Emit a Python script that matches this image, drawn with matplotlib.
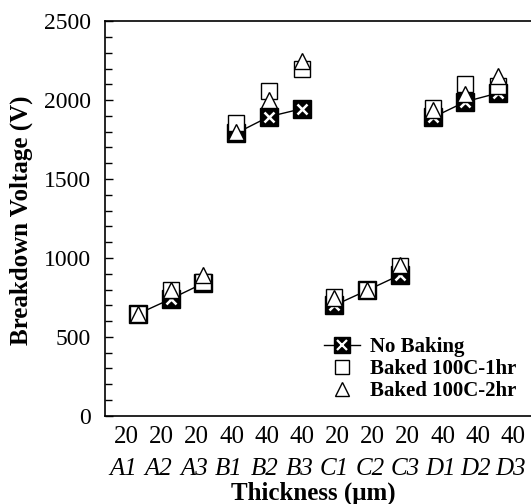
import matplotlib
matplotlib.use("Agg")
import matplotlib.pyplot as plt
import numpy as np
from matplotlib.ticker import MultipleLocator

plt.rcParams['font.family'] = ['Liberation Serif', 'DejaVu Serif']

samples = ['A1', 'A2', 'A3', 'B1', 'B2', 'B3', 'C1', 'C2', 'C3', 'D1', 'D2', 'D3']
thickness = ['20', '20', '20', '40', '40', '40', '20', '20', '20', '40', '40', '40']

no_baking = [645, 740, 840, 1790, 1895, 1945, 700, 795, 892, 1890, 1990, 2045]
baked_1hr = [645, 800, 848, 1855, 2055, 2200, 750, 800, 948, 1950, 2100, 2090]
baked_2hr = [645, 798, 895, 1798, 2000, 2245, 745, 800, 955, 1940, 2040, 2150]

x = np.arange(1, len(samples) + 1)

fig = plt.figure(figsize=(5.31, 5.04), dpi=100)
ax = fig.add_axes([0.198, 0.175, 0.802, 0.783])

# no-baking series: lines within each group of three, black square with white cross
for g in range(4):
    sl = slice(3 * g, 3 * g + 3)
    ax.plot(x[sl], no_baking[sl], '-', color='black', lw=1.0, zorder=2)
ax.plot(x, no_baking, 's', ms=12.5, mfc='black', mec='black', zorder=3)
ax.plot(x, no_baking, 'x', ms=7.5, mew=1.8, color='white', zorder=4)

ax.plot(x, baked_1hr, 's', ms=11, mfc='white', mec='black', mew=1.0, zorder=5)
ax.plot(x, baked_2hr, '^', ms=12, mfc='white', mec='black', mew=1.0, zorder=6)

ax.set_xlim(0, 13.0)
ax.set_ylim(0, 2500)
ax.yaxis.set_major_locator(MultipleLocator(500))
ax.yaxis.set_minor_locator(MultipleLocator(100))
ax.tick_params(axis='y', which='major', direction='in', length=6, width=1.0,
               labelsize=17, pad=10)
ax.tick_params(axis='y', which='minor', direction='in', length=5, width=1.0)
ax.set_xticks([])
ax.spines['right'].set_visible(False)
for s in ['left', 'top', 'bottom']:
    ax.spines[s].set_linewidth(1.2)

# two-row category labels under the axis
label_pos = 0.64 + np.arange(len(samples)) * 1.074
for px, t, s in zip(label_pos, thickness, samples):
    ax.text(px, -0.026, t, transform=ax.get_xaxis_transform(),
            ha='center', va='top', fontsize=18)
    ax.text(px - 0.08, -0.108, s, transform=ax.get_xaxis_transform(),
            ha='center', va='top', fontsize=18, style='italic')

ax.text(0.49, -0.197, 'Thickness (\u03bcm)', transform=ax.transAxes,
        ha='center', va='center', fontsize=18, fontweight='bold')
ax.text(-0.198, 0.495, 'Breakdown Voltage (V)', transform=ax.transAxes,
        ha='center', va='center', rotation=90, fontsize=18, fontweight='bold')

# legend handles
h1, = ax.plot([], [], '-', color='black', lw=1.0, marker='s', ms=11,
              mfc='black', mec='black')
h1x, = ax.plot([], [], 'x', ms=6.5, mew=1.6, color='white')
h2, = ax.plot([], [], 's', ms=10, mfc='white', mec='black', mew=1.0, ls='none')
h3, = ax.plot([], [], '^', ms=10, mfc='white', mec='black', mew=1.0, ls='none')
leg = ax.legend([(h1, h1x), h2, h3],
                ['No Baking', 'Baked 100C-1hr', 'Baked 100C-2hr'],
                loc='lower right', bbox_to_anchor=(1.0, 0.0), frameon=False,
                prop={'weight': 'bold', 'size': 15}, handlelength=1.7,
                handletextpad=0.5, labelspacing=0.1, borderaxespad=0.3)

fig.savefig('out.png', dpi=100)
